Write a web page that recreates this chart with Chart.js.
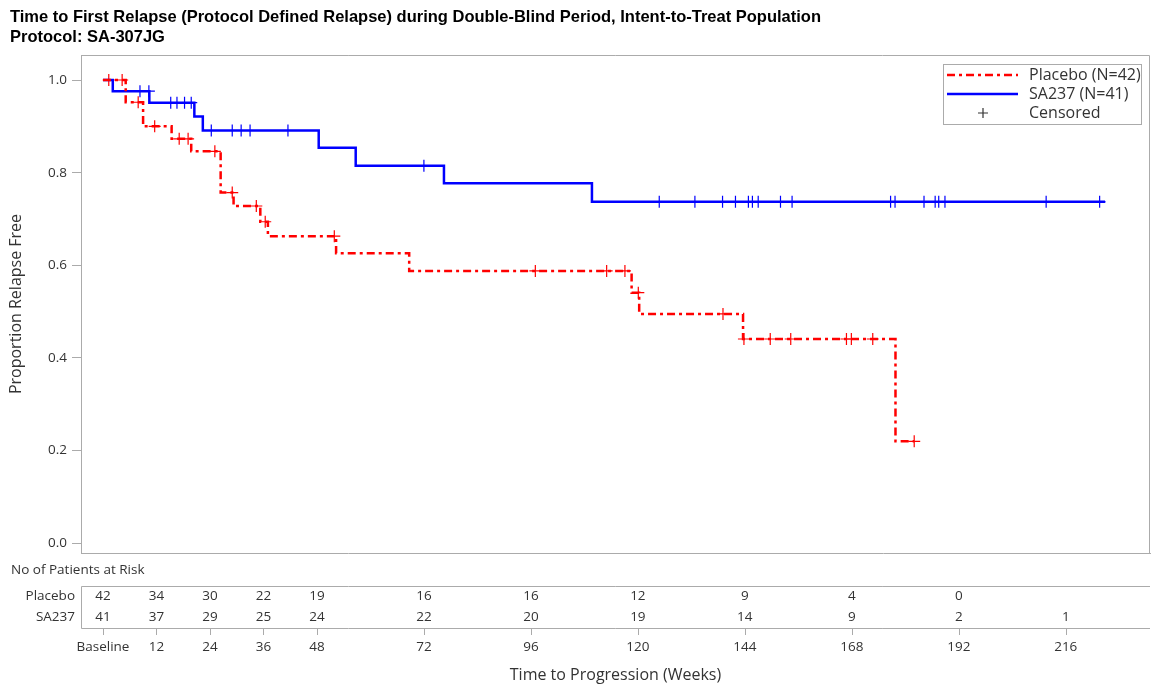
<!DOCTYPE html>
<html>
<head>
<meta charset="utf-8">
<script src="https://cdn.jsdelivr.net/npm/chart.js@4.4.1/dist/chart.umd.min.js"></script>
<style>
  html, body { margin: 0; padding: 0; background: #fff; }
  #kmChart { display: block; }
</style>
</head>
<body>
<canvas id="kmChart" width="1151" height="685"></canvas>
<script>
// KM step points (week, proportion relapse free)
const placeboTimes = [0, 5.1, 9.0, 15.4, 19.8, 26.4, 29.3, 35.3, 37.0, 52.3, 68.7, 118.6, 120.3, 143.6, 177.8, 182.0];
const placeboSurv  = [1.0, 0.952, 0.900, 0.873, 0.846, 0.757, 0.728, 0.694, 0.663, 0.626, 0.588, 0.541, 0.495, 0.441, 0.220, 0.220];
const sa237Times = [0, 2.2, 10.4, 20.5, 22.4, 48.4, 56.7, 76.5, 109.7, 224.8];
const sa237Surv  = [1.0, 0.976, 0.951, 0.921, 0.891, 0.854, 0.815, 0.777, 0.737, 0.737];

// censored observations
const placeboCensT = [1.3, 4.3, 7.9, 11.6, 17.1, 19.1, 25.1, 29.0, 34.4, 36.4, 51.9, 97.0, 113.0, 117.1, 120.1, 139.1, 143.8, 149.7, 154.3, 166.8, 167.9, 172.7, 182.0];
const placeboCensS = [1.0, 1.0, 0.952, 0.900, 0.873, 0.873, 0.846, 0.757, 0.728, 0.694, 0.663, 0.588, 0.588, 0.588, 0.541, 0.495, 0.441, 0.441, 0.441, 0.441, 0.441, 0.441, 0.220];
const sa237CensT = [8.3, 10.3, 15.2, 16.6, 18.3, 19.8, 24.3, 29.0, 31.0, 33.0, 41.5, 72.0, 124.8, 132.8, 139.0, 141.9, 144.8, 145.7, 147.0, 152.0, 154.6, 176.7, 177.7, 184.2, 186.7, 187.5, 188.9, 211.6, 223.6];
const sa237CensS = [0.976, 0.976, 0.951, 0.951, 0.951, 0.951, 0.891, 0.891, 0.891, 0.891, 0.891, 0.815, 0.737, 0.737, 0.737, 0.737, 0.737, 0.737, 0.737, 0.737, 0.737, 0.737, 0.737, 0.737, 0.737, 0.737, 0.737, 0.737, 0.737];

// number at risk table
const riskWeeks   = [0, 12, 24, 36, 48, 72, 96, 120, 144, 168, 192, 216];
const placeboRisk = [42, 34, 30, 22, 19, 16, 16, 12, 9, 4, 0, null];
const sa237Risk   = [41, 37, 29, 25, 24, 22, 20, 19, 14, 9, 2, 1];
const yTickVals = [0, 0.2, 0.4, 0.6, 0.8, 1.0];

const titleLines = [
  'Time to First Relapse (Protocol Defined Relapse) during Double-Blind Period, Intent-to-Treat Population',
  'Protocol: SA-307JG'
];

const RED = '#ff0000', BLUE = '#0000ff';
const GREY = '#ababab', TXT = '#333333';
const FONT = '"Open Sans", sans-serif';
const redDash = [8, 4, 3, 4];

const pts = (xs, ys) => xs.map((t, i) => ({ x: t, y: ys[i] }));

// title, frame, risk table and legend are drawn here
const kmExtras = {
  id: 'kmExtras',
  afterDraw(chart) {
    const { ctx, chartArea: a } = chart;
    const x = chart.scales.x;
    ctx.save();

    ctx.fillStyle = '#000';
    ctx.font = 'bold 16.5px "Liberation Sans", Arial, sans-serif';
    ctx.textAlign = 'left';
    ctx.textBaseline = 'middle';
    titleLines.forEach((t, i) => ctx.fillText(t, 10, 17 + i * 20));

    // top + right of the plot frame
    ctx.strokeStyle = GREY;
    ctx.lineWidth = 1;
    ctx.beginPath();
    ctx.moveTo(a.left, a.top + 0.5);
    ctx.lineTo(a.right - 0.5, a.top + 0.5);
    ctx.lineTo(a.right - 0.5, a.bottom);
    ctx.stroke();

    // at risk table
    const boxTop = 586, boxBot = 628;
    ctx.beginPath();
    ctx.moveTo(a.right, boxTop + 0.5);
    ctx.lineTo(a.left + 0.5, boxTop + 0.5);
    ctx.lineTo(a.left + 0.5, boxBot + 0.5);
    ctx.lineTo(a.right, boxBot + 0.5);
    riskWeeks.forEach(w => {
      const px = Math.round(x.getPixelForValue(w)) + 0.5;
      ctx.moveTo(px, boxBot);
      ctx.lineTo(px, boxBot + 7);
    });
    ctx.stroke();

    ctx.fillStyle = TXT;
    ctx.font = '13.5px ' + FONT;
    ctx.textAlign = 'left';
    ctx.fillText('No of Patients at Risk', 11, 570);
    ctx.textAlign = 'right';
    ctx.fillText('Placebo', 75, 596);
    ctx.fillText('SA237', 75, 617);
    ctx.textAlign = 'center';
    riskWeeks.forEach((w, i) => {
      const px = x.getPixelForValue(w);
      if (placeboRisk[i] !== null) ctx.fillText(String(placeboRisk[i]), px, 596);
      if (sa237Risk[i] !== null) ctx.fillText(String(sa237Risk[i]), px, 617);
    });

    // legend box
    const lx = 943, ly = 64, lw = 198, lh = 60;
    ctx.strokeStyle = GREY;
    ctx.strokeRect(lx + 0.5, ly + 0.5, lw, lh);
    const ds = chart.data.datasets;
    const rows = [
      { text: ds[0].label, color: RED, dash: redDash, y: 75 },
      { text: ds[1].label, color: BLUE, dash: [], y: 94 },
      { text: 'Censored', cross: true, y: 113 }
    ];
    ctx.font = '16px ' + FONT;
    rows.forEach(r => {
      if (r.cross) {
        ctx.strokeStyle = '#333';
        ctx.lineWidth = 1.2;
        ctx.setLineDash([]);
        ctx.beginPath();
        ctx.moveTo(978, r.y); ctx.lineTo(988, r.y);
        ctx.moveTo(983, r.y - 5); ctx.lineTo(983, r.y + 5);
        ctx.stroke();
      } else {
        ctx.strokeStyle = r.color;
        ctx.lineWidth = 2.5;
        ctx.setLineDash(r.dash);
        ctx.beginPath();
        ctx.moveTo(947, r.y); ctx.lineTo(1018, r.y);
        ctx.stroke();
        ctx.setLineDash([]);
      }
      ctx.fillStyle = TXT;
      ctx.textAlign = 'left';
      ctx.fillText(r.text, 1029, r.y);
    });

    ctx.restore();
  }
};

new Chart(document.getElementById('kmChart'), {
  type: 'scatter',
  data: {
    datasets: [
      {
        label: 'Placebo (N=42)',
        data: pts(placeboTimes, placeboSurv),
        showLine: true, stepped: true,
        borderColor: RED, borderWidth: 2.5, borderDash: redDash,
        pointRadius: 0, fill: false
      },
      {
        label: 'SA237 (N=41)',
        data: pts(sa237Times, sa237Surv),
        showLine: true, stepped: true,
        borderColor: BLUE, borderWidth: 2.5,
        pointRadius: 0, fill: false
      },
      {
        label: 'Placebo censored',
        data: pts(placeboCensT, placeboCensS),
        showLine: false, pointStyle: 'cross', pointRadius: 6,
        borderColor: RED, borderWidth: 1.2, backgroundColor: RED
      },
      {
        label: 'SA237 censored',
        data: pts(sa237CensT, sa237CensS),
        showLine: false, pointStyle: 'cross', pointRadius: 6,
        borderColor: BLUE, borderWidth: 1.2, backgroundColor: BLUE
      }
    ]
  },
  options: {
    responsive: false,
    animation: false,
    devicePixelRatio: 1,
    layout: { autoPadding: false, padding: { top: 55, right: 1, left: 0, bottom: 0 } },
    plugins: {
      legend: { display: false },
      tooltip: { enabled: false },
      title: { display: false }
    },
    scales: {
      x: {
        type: 'linear',
        min: -4.93, max: 234.9,
        afterBuildTicks: s => { s.ticks = riskWeeks.map(v => ({ value: v })); },
        afterFit: s => {
          s.height = 132;
          s.paddingLeft = 0;
          s.paddingRight = 0;
        },
        grid: { display: false, drawTicks: false },
        border: { display: true, color: GREY },
        ticks: {
          padding: 86,
          color: TXT,
          font: { family: FONT, size: 13.5 },
          maxRotation: 0,
          autoSkip: false,
          callback: v => (v === 0 ? 'Baseline' : String(v))
        },
        title: {
          display: true,
          text: 'Time to Progression (Weeks)',
          color: TXT,
          font: { family: FONT, size: 16 },
          padding: { top: 0, bottom: 0 }
        }
      },
      y: {
        min: -0.021, max: 1.054,
        afterBuildTicks: s => { s.ticks = yTickVals.map(v => ({ value: v })); },
        afterFit: s => {
          s.width = 81;
          s.paddingTop = 0;
          s.paddingBottom = 0;
        },
        grid: { drawOnChartArea: false, tickLength: 9, color: GREY },
        border: { display: true, color: GREY },
        ticks: {
          padding: 5,
          color: TXT,
          font: { family: FONT, size: 13.5 },
          callback: v => Number(v).toFixed(1)
        },
        title: {
          display: true,
          text: 'Proportion Relapse Free',
          color: TXT,
          font: { family: FONT, size: 16 },
          padding: { top: 7, bottom: 0 }
        }
      }
    }
  },
  plugins: [kmExtras]
});
</script>
</body>
</html>
